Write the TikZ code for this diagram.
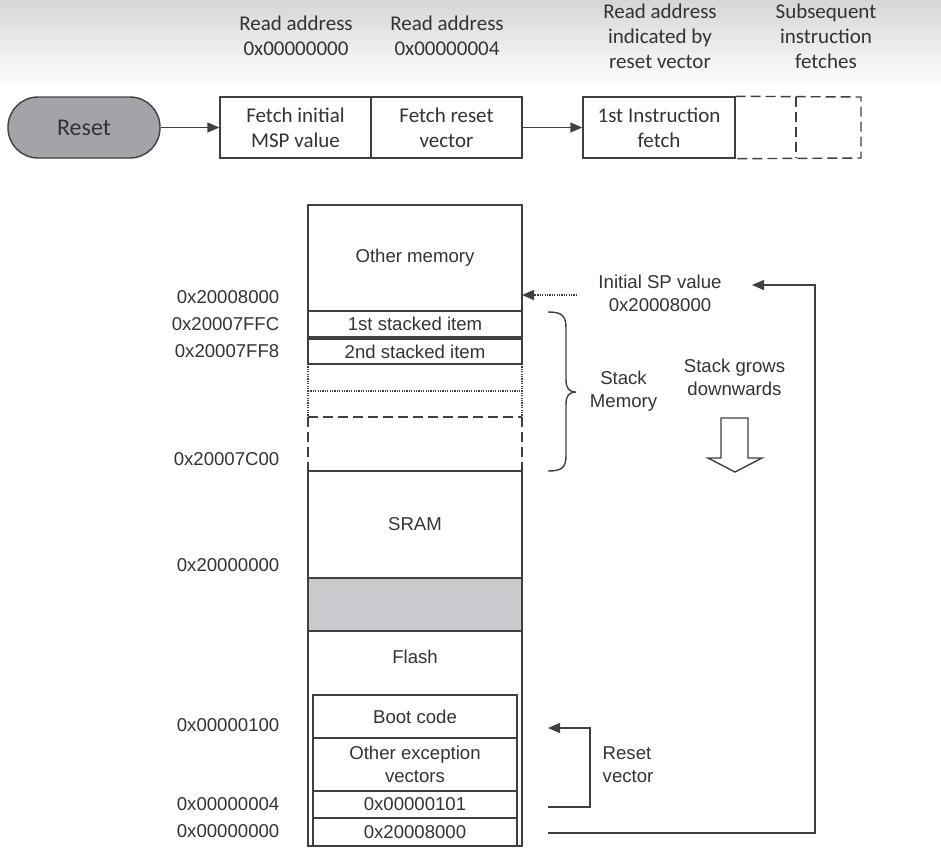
\documentclass[tikz,border=0pt]{standalone}
\usepackage{fontspec}
\setmainfont{Liberation Sans}
\newfontfamily\calfont{Carlito}
\usetikzlibrary{arrows.meta}
\definecolor{ln}{HTML}{404040}
\definecolor{tx}{HTML}{333333}
\definecolor{resetfill}{HTML}{A3A4AA}
\definecolor{gapfill}{HTML}{C9CACE}
\begin{document}
\begin{tikzpicture}[x=0.5pt,y=-0.5pt, line width=0.7pt, color=ln,
  topbox/.style={draw=ln, inner sep=0pt, align=center, text=tx,
    font=\calfont\fontsize{10.5}{12.5}\selectfont},
  toplbl/.style={inner sep=0pt, align=center, text=tx,
    font=\calfont\fontsize{10.5}{12.5}\selectfont},
  membox/.style={draw=ln, inner sep=0pt, align=center, text=tx,
    minimum width=107pt, font=\fontsize{9.3}{11.5}\selectfont},
  inbox/.style={draw=ln, inner sep=0pt, align=center, text=tx,
    minimum width=102pt, font=\fontsize{9.3}{11.5}\selectfont},
  lbl/.style={inner sep=0pt, align=center, text=tx,
    font=\fontsize{9.3}{11.5}\selectfont},
  addr/.style={lbl, anchor=east},
  arr/.style={-{Triangle[length=6pt,width=5pt]}, draw=ln, line width=0.7pt},
  dashline/.style={draw=ln, dash pattern=on 5pt off 2.5pt},
  dotline/.style={draw=ln, line width=0.6pt, dash pattern=on 0.6pt off 0.6pt},
]
\useasboundingbox (0,0) rectangle (941,852);
\shade[top color=black!16, bottom color=white] (0,0) rectangle (941,88);

% ---------- top row ----------
\node[topbox, fill=resetfill, rounded corners=15pt, minimum width=76pt, minimum height=30.5pt,
  font=\calfont\fontsize{12}{14}\selectfont] (reset) at (84,127.5) {Reset};
\node[topbox, minimum width=75.5pt, minimum height=30.5pt] (f1) at (295.5,127.5) {Fetch initial\\MSP value};
\node[topbox, minimum width=75.5pt, minimum height=30.5pt] (f2) at (446.5,127.5) {Fetch reset\\vector};
\node[topbox, minimum width=76pt, minimum height=30.5pt] (f3) at (659,127.5) {1st Instruction\\fetch};
\coordinate (d1) at (861,97);
\coordinate (d2) at (861,158);
\coordinate (dm1) at (796,97);
\coordinate (dm2) at (796,158);
\draw[dashline] (f3.north east) -- (d1) -- (d2) -- (f3.south east);
\draw[dashline] (dm1) -- (dm2);
\draw[arr] (reset) -- (f1);
\draw[arr] (f2) -- (f3);

\node[toplbl] (t1) at (296,35.5) {Read address\\0x00000000};
\node[toplbl] (t2) at (447,35.5) {Read address\\0x00000004};
\node[toplbl] (t3) at (660,36) {Read address\\indicated by\\reset vector};
\node[toplbl] (t4) at (826,36) {Subsequent\\instruction\\fetches};

% ---------- memory column ----------
\node[membox, minimum height=53pt] (om) at (415,258) {Other memory};
\node[membox, minimum height=13pt] (s1) at (415,324) {1st stacked item};
\node[membox, minimum height=12.5pt] (s2) at (415,351.5) {2nd stacked item};
\draw[dotline] (308,364) -- (308,417);
\draw[dotline] (522,364) -- (522,417);
\draw[dotline] (308,391) -- (522,391);
\draw[dashline] (308,417) -- (522,417);
\draw[dashline] (308,417) -- (308,471);
\draw[dashline] (522,417) -- (522,471);
\node[membox, minimum height=53.5pt] (sram) at (415,524.5) {SRAM};
\node[membox, minimum height=26.5pt, fill=gapfill] (gap) at (415,604.5) {};
\node[membox, minimum height=107.5pt] (flash) at (415,738.5) {};
\node[lbl] (flashl) at (415,657) {Flash};
\node[inbox, minimum height=21.5pt] (boot) at (415,716.5) {Boot code};
\node[inbox, minimum height=26.5pt] (exc) at (415,764.5) {Other exception\\vectors};
\node[inbox, minimum height=13.5pt] (v1) at (415,804.5) {0x00000101};
\node[inbox, minimum height=13.5pt] (v0) at (415,832) {0x20008000};

% ---------- addresses ----------
\node[addr] (a1) at (280,297) {0x20008000};
\node[addr] (a2) at (280,324) {0x20007FFC};
\node[addr] (a3) at (280,351) {0x20007FF8};
\node[addr] (a4) at (280,459) {0x20007C00};
\node[addr] (a5) at (280,565) {0x20000000};
\node[addr] (a6) at (280,725) {0x00000100};
\node[addr] (a7) at (280,804) {0x00000004};
\node[addr] (a8) at (280,831) {0x00000000};

% ---------- right side ----------
\node[lbl] (spl) at (660,293.5) {Initial SP value\\0x20008000};
\coordinate (spfree) at (577,295);
\coordinate (sptip) at (522,295);
\draw[dotline, line width=0.7pt, -{Triangle[length=6pt,width=5pt]}] (spfree) -- (sptip);

\coordinate (r0a) at (548,833);
\coordinate (r0b) at (815,833);
\coordinate (r0c) at (815,285);
\coordinate (r0d) at (752,285);
\draw[arr] (r0a) -- (r0b) -- (r0c) -- (r0d);

\coordinate (r1a) at (548,807);
\coordinate (r1b) at (590,807);
\coordinate (r1c) at (590,728);
\coordinate (r1d) at (548,728);
\draw[arr] (r1a) -- (r1b) -- (r1c) -- (r1d);
\node[lbl, align=left, anchor=west] (rvl) at (602,764.5) {Reset\\vector};

\draw (548,312) .. controls (561,312) and (566,315) .. (566,328) -- (566,380)
  .. controls (566,388) and (569,392) .. (576,392)
  .. controls (569,392) and (566,396) .. (566,404) -- (566,456)
  .. controls (566,468) and (561,471) .. (548,471);
\node[lbl] (sml) at (623.5,391.5) {Stack\\Memory};
\node[lbl] (sgl) at (734.5,377) {Stack grows\\downwards};
\draw[fill=white] (721,418) -- (748,418) -- (748,458) -- (762,458) -- (735,472)
  -- (708,458) -- (721,458) -- cycle;
\end{tikzpicture}
\end{document}
